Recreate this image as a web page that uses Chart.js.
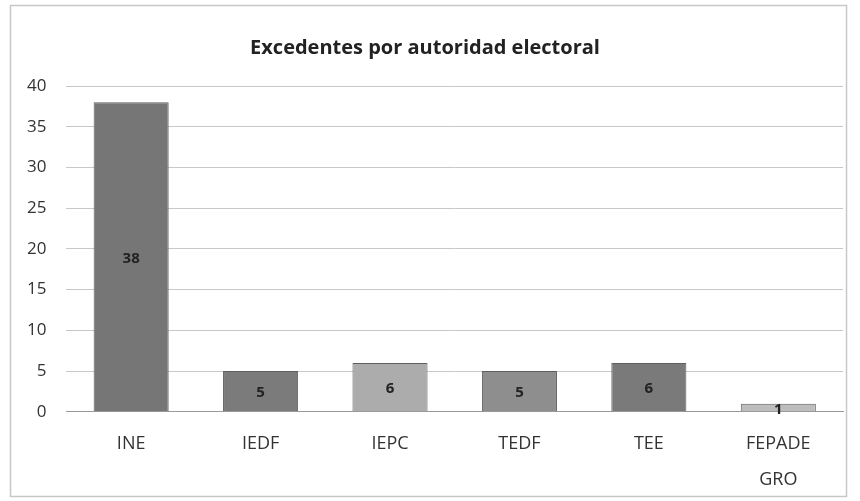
<!DOCTYPE html>
<html lang="es">
<head>
    <meta charset="UTF-8">
    <title>Excedentes por autoridad electoral</title>
    <script src="https://cdn.jsdelivr.net/npm/chart.js"></script>
    <style>
        html, body { margin: 0; padding: 0; background: #ffffff; }
        #wrap { width: 860px; height: 501px; }
    </style>
</head>
<body>
    <div id="wrap"><canvas id="chart" width="860" height="501"></canvas></div>

    <script>
        // Datos del gráfico
        const categories = ['INE', 'IEDF', 'IEPC', 'TEDF', 'TEE', ['FEPADE', 'GRO']];
        const excedentes = [38, 5, 6, 5, 6, 1];
        const barColors = ['#767676', '#7b7b7b', '#acacac', '#8e8e8e', '#7a7a7a', '#bdbdbd'];
        const yTicks = [0, 5, 10, 15, 20, 25, 30, 35, 40];

        // Marco del gráfico
        const framePlugin = {
            id: 'frame',
            beforeDraw(chart) {
                const c = chart.ctx;
                c.save();
                c.fillStyle = '#ffffff';
                c.fillRect(0, 0, chart.width, chart.height);
                c.strokeStyle = '#c8c8c8';
                c.lineWidth = 1.5;
                c.strokeRect(10.5, 5.5, 836, 491);
                c.restore();
            }
        };

        // Etiquetas de valor dentro de las barras
        const valueLabels = {
            id: 'valueLabels',
            afterDatasetsDraw(chart) {
                const c = chart.ctx;
                const meta = chart.getDatasetMeta(0);
                c.save();
                c.font = 'bold 15px "Open Sans", sans-serif';
                c.fillStyle = '#222222';
                c.textAlign = 'center';
                c.textBaseline = 'middle';
                meta.data.forEach((bar, i) => {
                    const y = (bar.y + bar.base) / 2;
                    c.fillText(excedentes[i], bar.x, y + 2);
                });
                c.restore();
            }
        };

        const ctx = document.getElementById('chart').getContext('2d');
        new Chart(ctx, {
            type: 'bar',
            data: {
                labels: categories,
                datasets: [{
                    data: excedentes,
                    backgroundColor: barColors,
                    borderColor: '#5e5e5e',
                    borderWidth: 1,
                    categoryPercentage: 1,
                    barPercentage: 0.58
                }]
            },
            options: {
                responsive: false,
                animation: false,
                layout: { padding: { left: 7, right: 17, top: 36, bottom: -3 } },
                plugins: {
                    legend: { display: false },
                    tooltip: { enabled: false },
                    title: {
                        display: true,
                        text: 'Excedentes por autoridad electoral',
                        color: '#222222',
                        font: { family: '"Open Sans", sans-serif', size: 20, weight: 'bold' },
                        padding: { top: 0, bottom: 26 }
                    }
                },
                scales: {
                    x: {
                        grid: { display: false },
                        border: { color: '#9a9a9a' },
                        ticks: {
                            color: '#333333',
                            font: { family: '"Open Sans", sans-serif', size: 18, lineHeight: 1.95 },
                            padding: 7,
                            maxRotation: 0
                        }
                    },
                    y: {
                        min: 0,
                        max: 40,
                        afterBuildTicks(axis) {
                            axis.ticks = yTicks.map(v => ({ value: v }));
                        },
                        grid: { color: '#c8c8c8', drawTicks: false },
                        border: { display: false },
                        ticks: {
                            color: '#333333',
                            font: { family: '"Open Sans", sans-serif', size: 17 },
                            padding: 20
                        }
                    }
                }
            },
            plugins: [framePlugin, valueLabels]
        });
    </script>
</body>
</html>
